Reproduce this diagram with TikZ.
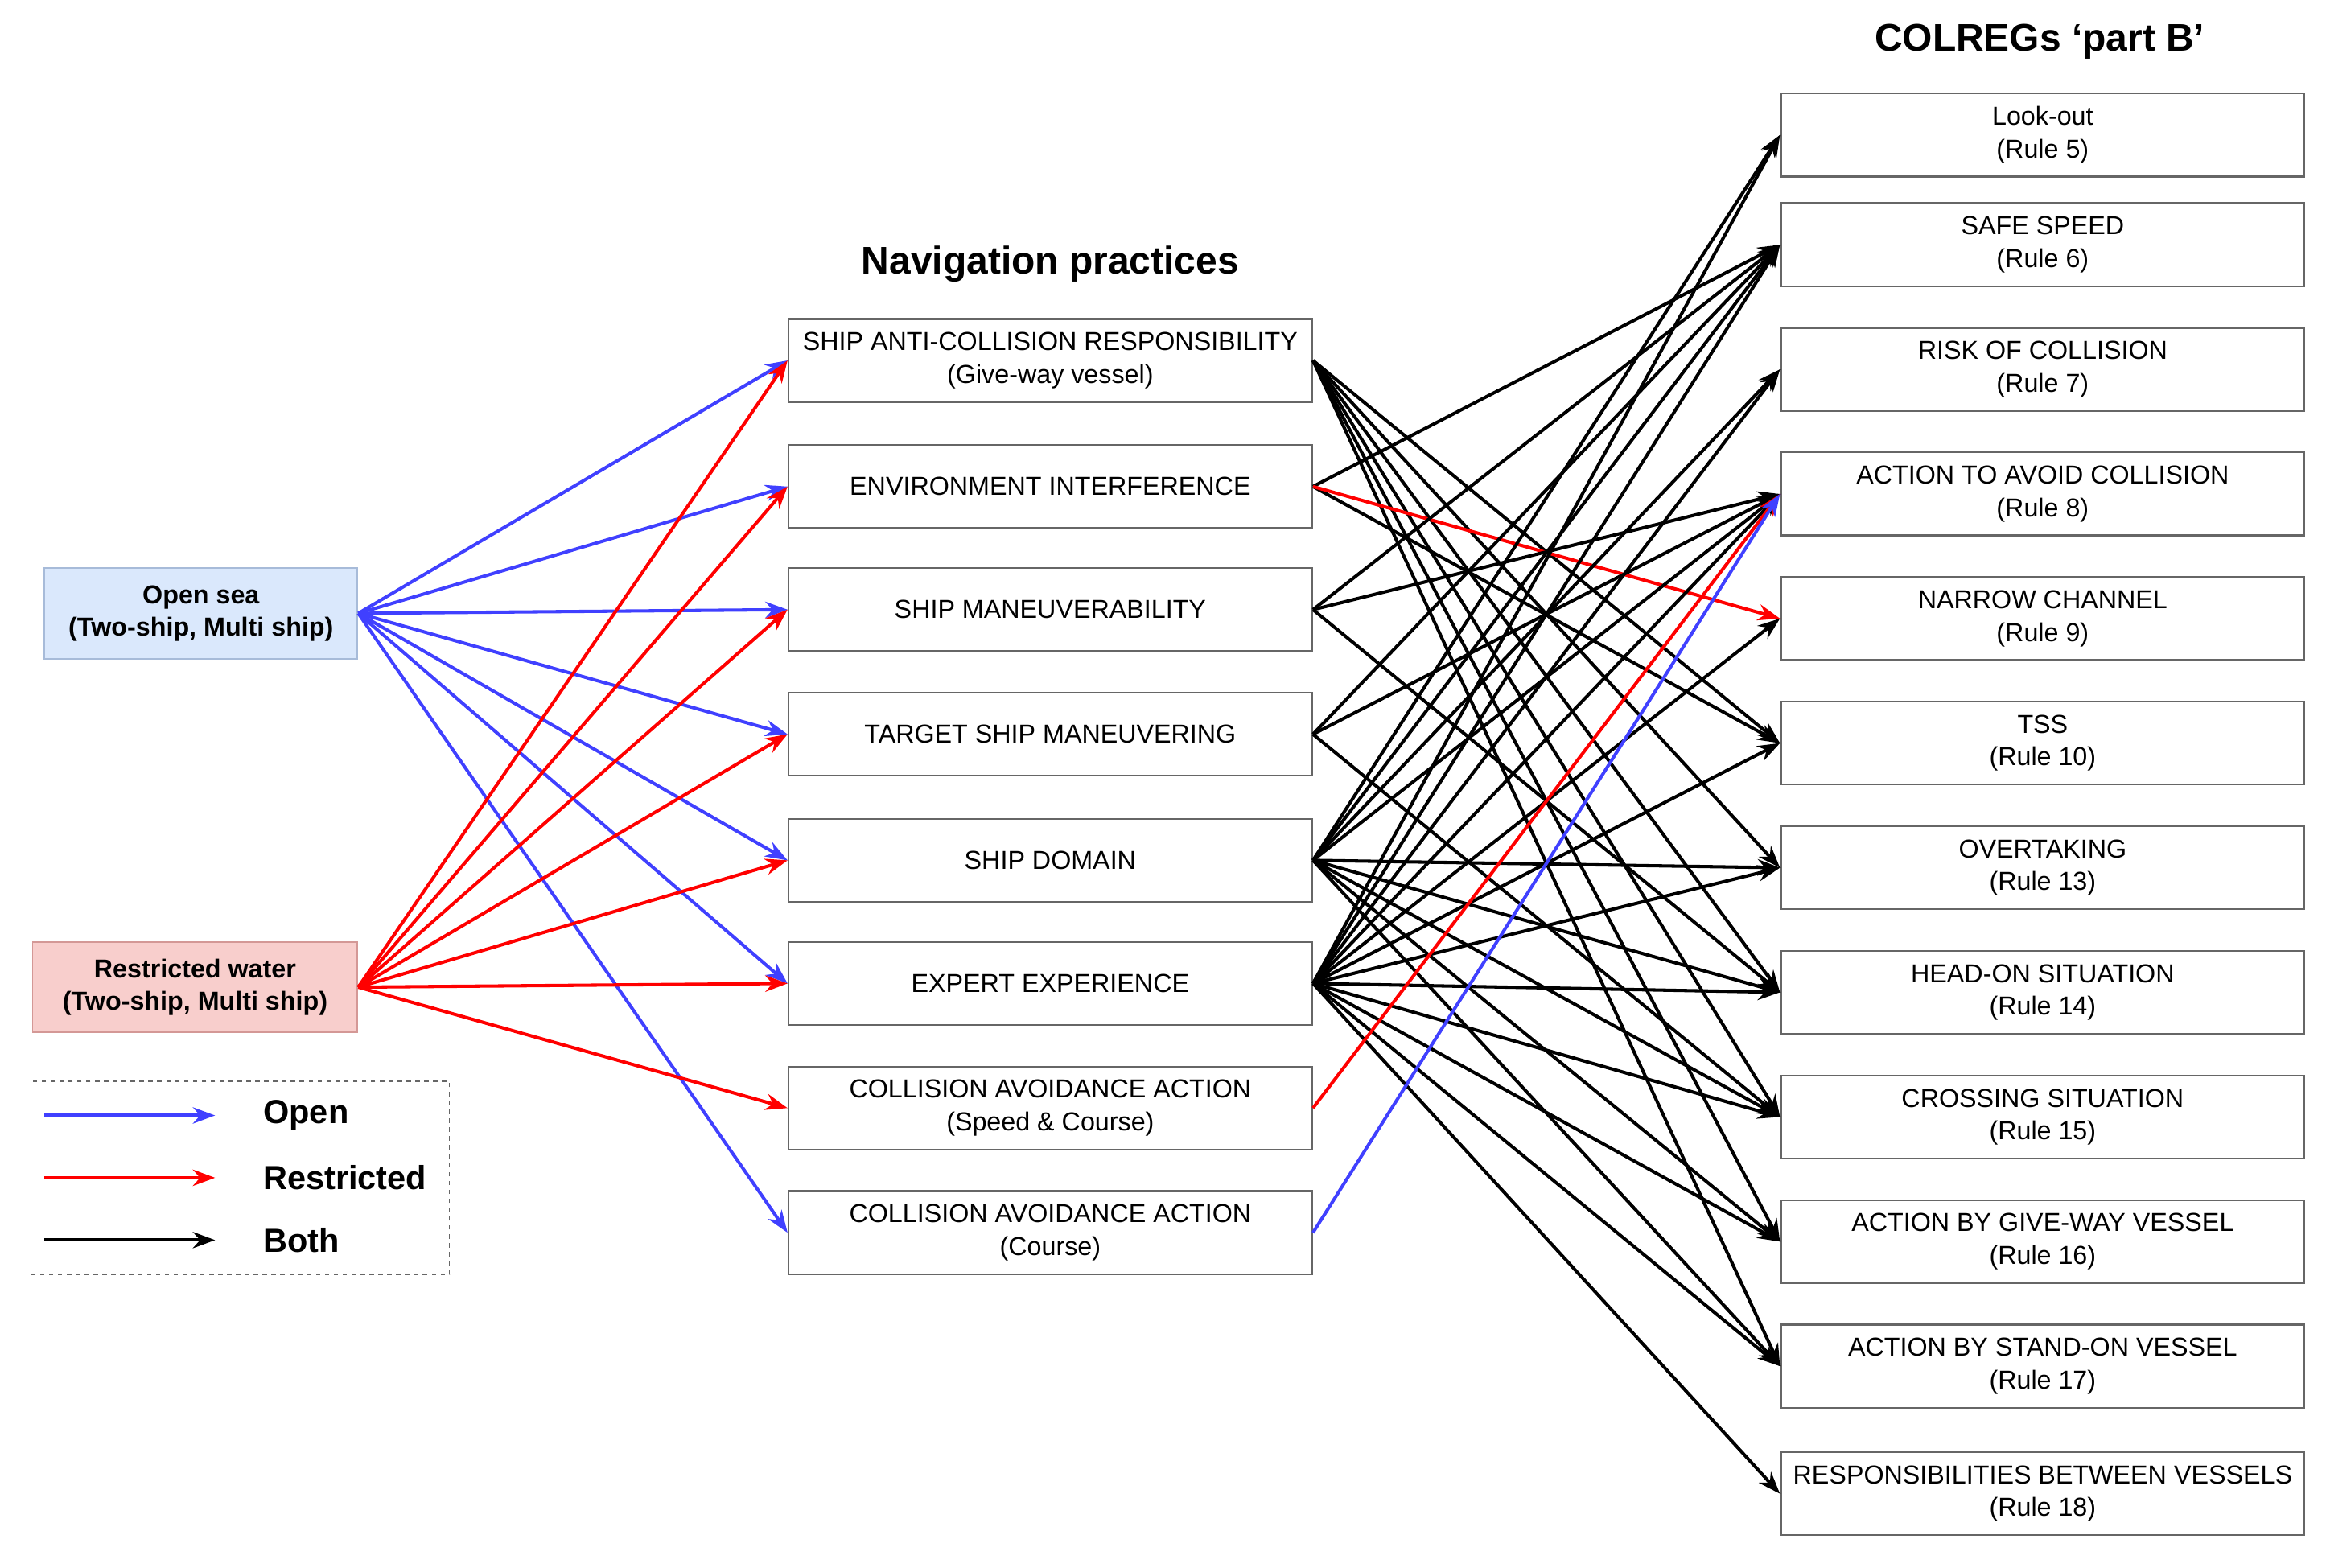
\documentclass[tikz,border=0pt]{standalone}
\usepackage{fontspec}
\setmainfont{Liberation Sans}
\usetikzlibrary{arrows.meta}
\definecolor{osf}{HTML}{DAE8FC}
\definecolor{osd}{HTML}{6C8EBF}
\definecolor{rwf}{HTML}{F8CECC}
\definecolor{rwd}{HTML}{B85450}
\begin{document}
\begin{tikzpicture}[x=1pt,y=-1pt,
  box/.style={draw=black!60,line width=1.2pt,minimum width=353pt,minimum height=56pt,align=center,font=\fontsize{17.5}{22}\selectfont,inner sep=1pt},
  src/.style={line width=1pt,minimum width=211pt,minimum height=61pt,align=center,font=\bfseries\fontsize{17.5}{22}\selectfont},
  arr/.style={line width=2.2pt,-{Stealth[length=15pt,width=11pt]}},
  ob/.style={arr,blue!75!white},
  rr/.style={arr,red},
  bb/.style={arr,black}]
\useasboundingbox (0,0) rectangle (1568,1057);
\node[font=\bfseries\fontsize{26}{30}\selectfont] (t1) at (708,178) {Navigation practices};
\node[font=\bfseries\fontsize{26}{30}\selectfont] (t2) at (1375,28) {COLREGs ‘part B’};
% middle
\node[box] (m1) at (708,243) {SHIP ANTI-COLLISION RESPONSIBILITY\\(Give-way vessel)};
\node[box] (m2) at (708,328) {ENVIRONMENT INTERFERENCE};
\node[box] (m3) at (708,411) {SHIP MANEUVERABILITY};
\node[box] (m4) at (708,495) {TARGET SHIP MANEUVERING};
\node[box] (m5) at (708,580) {SHIP DOMAIN};
\node[box] (m6) at (708,663) {EXPERT EXPERIENCE};
\node[box] (m7) at (708,747) {COLLISION AVOIDANCE ACTION\\(Speed \& Course)};
\node[box] (m8) at (708,831) {COLLISION AVOIDANCE ACTION\\(Course)};
% right
\node[box] (r5) at (1377,91) {Look-out\\(Rule 5)};
\node[box] (r6) at (1377,165) {SAFE SPEED\\(Rule 6)};
\node[box] (r7) at (1377,249) {RISK OF COLLISION\\(Rule 7)};
\node[box] (r8) at (1377,333) {ACTION TO AVOID COLLISION\\(Rule 8)};
\node[box] (r9) at (1377,417) {NARROW CHANNEL\\(Rule 9)};
\node[box] (r10) at (1377,501) {TSS\\(Rule 10)};
\node[box] (r13) at (1377,585) {OVERTAKING\\(Rule 13)};
\node[box] (r14) at (1377,669) {HEAD-ON SITUATION\\(Rule 14)};
\node[box] (r15) at (1377,753) {CROSSING SITUATION\\(Rule 15)};
\node[box] (r16) at (1377,837) {ACTION BY GIVE-WAY VESSEL\\(Rule 16)};
\node[box] (r17) at (1377,921) {ACTION BY STAND-ON VESSEL\\(Rule 17)};
\node[box] (r18) at (1377,1007) {RESPONSIBILITIES BETWEEN VESSELS\\(Rule 18)};
% sources
\node[src,draw=osd!60,fill=osf] (os) at (135.5,413.5) {Open sea\\(Two-ship, Multi ship)};
\node[src,draw=rwd!60,fill=rwf,minimum width=219pt] (rw) at (131.5,665.5) {Restricted water\\(Two-ship, Multi ship)};
% left arrows
\foreach \m in {m1,m2,m3,m4,m5,m6,m8} \draw[ob] (os.east) -- (\m.west);
\foreach \m in {m1,m2,m3,m4,m5,m6,m7} \draw[rr] (rw.east) -- (\m.west);
% right arrows
\foreach \r in {r10,r13,r14,r15,r16,r17} \draw[bb] (m1.east) -- (\r.west);
\foreach \r in {r6,r10} \draw[bb] (m2.east) -- (\r.west);
\draw[rr] (m2.east) -- (r9.west);
\foreach \r in {r6,r8,r14} \draw[bb] (m3.east) -- (\r.west);
\foreach \r in {r6,r8,r15} \draw[bb] (m4.east) -- (\r.west);
\foreach \r in {r5,r6,r7,r8,r13,r14,r15,r16,r17} \draw[bb] (m5.east) -- (\r.west);
\foreach \r in {r5,r6,r7,r8,r9,r10,r13,r14,r15,r16,r17,r18} \draw[bb] (m6.east) -- (\r.west);
\draw[rr] (m7.east) -- (r8.west);
\draw[ob] (m8.east) -- (r8.west);
% legend
\node[draw=black!60,dashed,line width=0.8pt,minimum width=282pt,minimum height=130pt] (lg) at (162,794) {};
\coordinate (la1) at (30,752); \coordinate (lb1) at (145,752);
\coordinate (la2) at (30,794); \coordinate (lb2) at (145,794);
\coordinate (la3) at (30,836); \coordinate (lb3) at (145,836);
\draw[ob] (la1) -- (lb1); \draw[rr] (la2) -- (lb2); \draw[bb] (la3) -- (lb3);
\node[anchor=west,font=\bfseries\fontsize{22.5}{26}\selectfont] (l1) at (174,752) {Open};
\node[anchor=west,font=\bfseries\fontsize{22.5}{26}\selectfont] (l2) at (174,794) {Restricted};
\node[anchor=west,font=\bfseries\fontsize{22.5}{26}\selectfont] (l3) at (174,836) {Both};
\end{tikzpicture}
\end{document}
